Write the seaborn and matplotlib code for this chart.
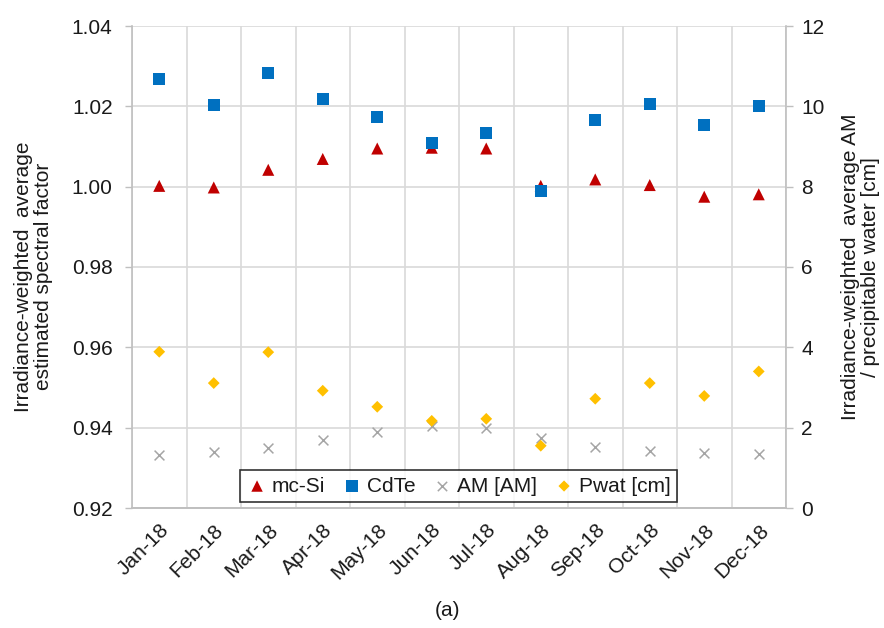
import numpy as np
import pandas as pd
import matplotlib
matplotlib.use("Agg")
import matplotlib.pyplot as plt
from matplotlib.ticker import FixedLocator
import seaborn as sns

months = ["Jan-18", "Feb-18", "Mar-18", "Apr-18", "May-18", "Jun-18",
          "Jul-18", "Aug-18", "Sep-18", "Oct-18", "Nov-18", "Dec-18"]
mc_si = [1.0002, 0.9998, 1.0042, 1.0069, 1.0095, 1.0097, 1.0095, 1.0002, 1.0018, 1.0004, 0.9975, 0.9981]
cdte = [1.0269, 1.0203, 1.0283, 1.0219, 1.0173, 1.0109, 1.0133, 0.9989, 1.0166, 1.0205, 1.0153, 1.0201]
am = [1.32, 1.40, 1.50, 1.69, 1.88, 2.03, 1.98, 1.75, 1.53, 1.42, 1.38, 1.34]
pwat = [3.89, 3.11, 3.88, 2.92, 2.52, 2.17, 2.22, 1.55, 2.72, 3.11, 2.79, 3.40]

left_label = "Irradiance-weighted  average\nestimated spectral factor"
right_label = "Irradiance-weighted  average AM\n/ precipitable water [cm]"

sns.set_style("white")
plt.rcParams["font.family"] = ["Liberation Sans", "DejaVu Sans"]

df = pd.DataFrame({"idx": np.arange(len(months)), "month": months,
                   "mc_si": mc_si, "cdte": cdte, "am": am, "pwat": pwat})

fig = plt.figure(figsize=(8.84, 6.28), dpi=100)
ax = fig.add_axes([132/884, 1-508/628, 654/884, 482/628])
ax2 = ax.twinx()

txt = "#1a1a1a"
gridc = "#d9d9d9"
axc = "#bfbfbf"
fs = 15

sns.scatterplot(data=df, x="idx", y="mc_si", ax=ax, marker="^", s=75,
                color="#c00000", edgecolor="none", label="mc-Si", legend=False, zorder=3)
sns.scatterplot(data=df, x="idx", y="cdte", ax=ax, marker="s", s=76,
                color="#0070c0", edgecolor="none", label="CdTe", legend=False, zorder=3)
sns.scatterplot(data=df, x="idx", y="am", ax=ax2, marker="x", s=50,
                color="#a5a5a5", linewidth=1.1, label="AM [AM]", legend=False, zorder=3)
sns.scatterplot(data=df, x="idx", y="pwat", ax=ax2, marker="D", s=36,
                color="#ffc000", edgecolor="none", label="Pwat [cm]", legend=False, zorder=3)

ax.set_xlim(-0.5, len(months) - 0.5)
ax.set_ylim(0.92, 1.04)
ax2.set_ylim(0, 12)
yt = np.arange(0.92, 1.0401, 0.02)
ax.set_yticks(yt)
ax.set_yticklabels([f"{v:.2f}" for v in yt])
ax2.set_yticks(np.arange(0, 13, 2))

ax.set_xticks(np.arange(len(months)))
ax.set_xticklabels(months, rotation=45, ha="right", rotation_mode="anchor")
ax.xaxis.set_minor_locator(FixedLocator(np.arange(-0.5, len(months), 1.0)))
ax.tick_params(axis="x", which="major", length=0, pad=9, labelsize=fs, labelcolor=txt)
ax.tick_params(axis="x", which="minor", length=5, color=axc, width=1, direction="out")
ax.tick_params(axis="y", length=5, color=axc, width=1, direction="out", labelsize=fs,
               labelcolor=txt, pad=9)
ax2.tick_params(axis="y", length=5, color=axc, width=1, direction="out", labelsize=fs,
                labelcolor=txt, pad=6)

ax.grid(False)
ax2.grid(False)
ax.grid(True, which="minor", axis="x", color=gridc, linewidth=1.2)
ax.grid(True, which="major", axis="y", color=gridc, linewidth=1.2)
ax.set_axisbelow(True)

for a in (ax, ax2):
    a.spines["top"].set_visible(False)
    for s in ("left", "right", "bottom"):
        a.spines[s].set_color(axc)
        a.spines[s].set_linewidth(1.2)
ax2.spines["left"].set_visible(False)
ax.spines["right"].set_visible(False)

ax.set_xlabel("")
ax.set_ylabel(left_label, fontsize=fs, color=txt, linespacing=1.05)
ax.yaxis.set_label_coords(-0.121, 0.48)
ax2.set_ylabel(right_label, fontsize=fs, color=txt, rotation=90, linespacing=1.05)
ax2.yaxis.set_label_coords(1.084, 0.5)

h1, l1 = ax.get_legend_handles_labels()
h2, l2 = ax2.get_legend_handles_labels()
leg = ax2.legend(h1 + h2, l1 + l2, ncol=4, loc="center",
                 bbox_to_anchor=(458.5/884, 1-486/628), bbox_transform=fig.transFigure,
                 frameon=True, fancybox=False, edgecolor="black", fontsize=fs,
                 handletextpad=0.2, columnspacing=0.8, handlelength=1.0,
                 borderpad=0.3, markerscale=0.95)
leg.get_frame().set_linewidth(1.2)
leg.get_frame().set_facecolor("white")
for t in leg.get_texts():
    t.set_color(txt)
leg.set_zorder(10)

fig.text(448/884, 1-610/628, "(a)", ha="center", va="center", fontsize=fs, color=txt)

fig.savefig("out.png", dpi=100)
